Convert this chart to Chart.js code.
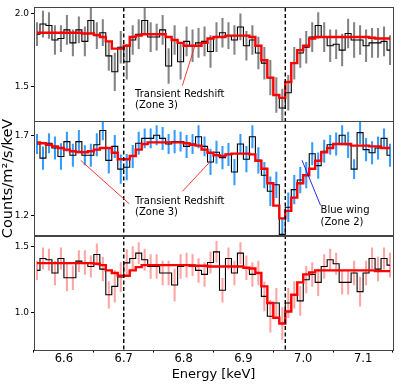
<!DOCTYPE html>
<html lang="en">
<head>
<meta charset="UTF-8" />
<title>Fe K spectrum panels</title>
<style>
  html, body { margin: 0; padding: 0; background: #fff; }
  #wrap { width: 399px; height: 384px; }
</style>
</head>
<body>
<div id="wrap"><canvas id="spec" width="399" height="384"></canvas></div>
<script src="https://cdn.jsdelivr.net/npm/chart.js"></script>
<script>
// bin centres [keV]
const energy = [
  6.555, 6.565, 6.575, 6.585, 6.595, 6.605, 6.615, 6.625, 6.635, 6.645,
  6.655, 6.665, 6.675, 6.685, 6.695, 6.705, 6.715, 6.725, 6.735, 6.745,
  6.755, 6.765, 6.775, 6.785, 6.795, 6.805, 6.815, 6.825, 6.835, 6.845,
  6.855, 6.865, 6.875, 6.885, 6.895, 6.905, 6.915, 6.925, 6.935, 6.945,
  6.955, 6.965, 6.975, 6.985, 6.995, 7.005, 7.015, 7.025, 7.035, 7.045,
  7.055, 7.065, 7.075, 7.085, 7.095, 7.105, 7.115, 7.125, 7.135, 7.145
];

// top panel (grey errors)
const data1 = [
  1.86, 1.93, 1.92, 1.82, 1.83, 1.89, 1.80, 1.89, 1.81, 1.955,
  1.85, 1.87, 1.71, 1.60, 1.77, 1.67, 1.82, 1.86, 1.955, 1.84,
  1.84, 1.89, 1.64, 1.82, 1.67, 1.81, 1.78, 1.80, 1.81, 1.74,
  1.84, 1.87, 1.85, 1.82, 1.91, 1.78, 1.82, 1.73, 1.66, 1.56,
  1.44, 1.35, 1.455, 1.66, 1.73, 1.77, 1.84, 1.92, 1.84, 1.78,
  1.79, 1.75, 1.865, 1.82, 1.82, 1.78, 1.80, 1.80, 1.81, 1.75
];
const err1 = [
  0.08, 0.09, 0.09, 0.10, 0.09, 0.10, 0.09, 0.09, 0.10, 0.09,
  0.09, 0.09, 0.10, 0.13, 0.11, 0.12, 0.10, 0.10, 0.09, 0.10,
  0.09, 0.10, 0.12, 0.10, 0.12, 0.10, 0.11, 0.10, 0.10, 0.11,
  0.10, 0.10, 0.09, 0.10, 0.09, 0.10, 0.10, 0.11, 0.11, 0.12,
  0.12, 0.13, 0.12, 0.11, 0.10, 0.11, 0.10, 0.09, 0.10, 0.11,
  0.10, 0.11, 0.10, 0.12, 0.10, 0.11, 0.10, 0.10, 0.10, 0.10
];
const model1 = [
  1.87, 1.87, 1.87, 1.87, 1.87, 1.87, 1.87, 1.87, 1.865, 1.865,
  1.855, 1.84, 1.81, 1.76, 1.76, 1.78, 1.84, 1.85, 1.86, 1.86,
  1.86, 1.86, 1.84, 1.82, 1.80, 1.78, 1.78, 1.78, 1.80, 1.83,
  1.84, 1.84, 1.85, 1.85, 1.85, 1.85, 1.84, 1.78, 1.68, 1.56,
  1.44, 1.42, 1.53, 1.66, 1.75, 1.78, 1.83, 1.84, 1.84, 1.84,
  1.84, 1.84, 1.84, 1.84, 1.84, 1.84, 1.835, 1.83, 1.83, 1.83
];

// middle panel (blue errors)
const data2 = [
  1.645, 1.557, 1.65, 1.62, 1.567, 1.66, 1.575, 1.66, 1.575, 1.575,
  1.64, 1.73, 1.543, 1.63, 1.488, 1.50, 1.567, 1.65, 1.68, 1.68,
  1.70, 1.68, 1.645, 1.66, 1.66, 1.63, 1.645, 1.69, 1.63, 1.533,
  1.594, 1.56, 1.58, 1.47, 1.645, 1.55, 1.69, 1.543, 1.45, 1.35,
  1.39, 1.08, 1.25, 1.36, 1.42, 1.45, 1.584, 1.51, 1.60, 1.64,
  1.645, 1.70, 1.64, 1.488, 1.716, 1.61, 1.59, 1.62, 1.68, 1.575
];
const err2 = [
  0.06, 0.07, 0.06, 0.07, 0.08, 0.06, 0.07, 0.07, 0.06, 0.07,
  0.07, 0.06, 0.08, 0.07, 0.09, 0.08, 0.07, 0.07, 0.06, 0.06,
  0.06, 0.07, 0.06, 0.07, 0.06, 0.07, 0.06, 0.07, 0.06, 0.08,
  0.07, 0.07, 0.07, 0.08, 0.06, 0.08, 0.07, 0.08, 0.08, 0.09,
  0.08, 0.10, 0.09, 0.09, 0.08, 0.08, 0.07, 0.08, 0.07, 0.06,
  0.07, 0.06, 0.08, 0.06, 0.07, 0.07, 0.07, 0.07, 0.06, 0.07
];
const model2 = [
  1.655, 1.65, 1.64, 1.63, 1.62, 1.61, 1.60, 1.595, 1.594, 1.60,
  1.61, 1.62, 1.62, 1.59, 1.55, 1.55, 1.57, 1.61, 1.645, 1.655,
  1.655, 1.655, 1.655, 1.655, 1.655, 1.65, 1.64, 1.635, 1.61, 1.59,
  1.575, 1.57, 1.58, 1.585, 1.585, 1.585, 1.58, 1.54, 1.49, 1.40,
  1.26, 1.18, 1.227, 1.31, 1.40, 1.45, 1.49, 1.54, 1.594, 1.62,
  1.645, 1.645, 1.645, 1.635, 1.635, 1.635, 1.63, 1.63, 1.62, 1.62
];

// bottom panel (light red errors)
const data3 = [
  1.32, 1.41, 1.40, 1.30, 1.41, 1.265, 1.265, 1.39, 1.38, 1.35,
  1.44, 1.33, 1.136, 1.20, 1.27, 1.377, 1.41, 1.45, 1.40, 1.35,
  1.35, 1.30, 1.30, 1.21, 1.35, 1.36, 1.36, 1.32, 1.29, 1.38,
  1.46, 1.17, 1.41, 1.30, 1.45, 1.34, 1.29, 1.30, 1.124, 0.975,
  1.074, 0.92, 1.074, 1.136, 1.09, 1.25, 1.29, 1.23, 1.35, 1.40,
  1.37, 1.23, 1.23, 1.30, 1.16, 1.30, 1.41, 1.33, 1.41, 1.36
];
const err3 = [
  0.07, 0.08, 0.08, 0.09, 0.08, 0.10, 0.09, 0.08, 0.09, 0.08,
  0.08, 0.09, 0.10, 0.12, 0.11, 0.10, 0.09, 0.08, 0.08, 0.09,
  0.09, 0.09, 0.09, 0.12, 0.09, 0.09, 0.08, 0.09, 0.09, 0.08,
  0.08, 0.09, 0.08, 0.09, 0.08, 0.09, 0.09, 0.09, 0.11, 0.12,
  0.11, 0.12, 0.11, 0.10, 0.11, 0.10, 0.09, 0.10, 0.09, 0.08,
  0.08, 0.09, 0.09, 0.09, 0.11, 0.09, 0.08, 0.09, 0.08, 0.09
];
const model3 = [
  1.375, 1.375, 1.375, 1.375, 1.375, 1.375, 1.375, 1.375, 1.375, 1.375,
  1.37, 1.36, 1.32, 1.30, 1.28, 1.28, 1.32, 1.345, 1.36, 1.36,
  1.36, 1.36, 1.36, 1.36, 1.36, 1.36, 1.355, 1.355, 1.355, 1.35,
  1.35, 1.35, 1.35, 1.35, 1.35, 1.34, 1.335, 1.30, 1.20, 1.074,
  0.963, 0.92, 1.01, 1.136, 1.23, 1.29, 1.305, 1.32, 1.32, 1.32,
  1.32, 1.32, 1.32, 1.32, 1.32, 1.32, 1.32, 1.315, 1.315, 1.315
];

const xTicks = [6.6, 6.7, 6.8, 6.9, 7.0, 7.1];
const yTicks1 = [1.5, 2.0];
const yTicks2 = [1.2, 1.7];
const yTicks3 = [1.0, 1.5];
const lineEnergies = [6.70, 6.97];

// text labels and pointer lines, in data coordinates of each panel
const notes = [
  { axis: 'yTop', x: 6.719, y: 1.446, text: 'Transient Redshift' },
  { axis: 'yTop', x: 6.719, y: 1.366, text: '(Zone 3)' },
  { axis: 'yMid', x: 6.719, y: 1.288, text: 'Transient Redshift' },
  { axis: 'yMid', x: 6.719, y: 1.220, text: '(Zone 3)' },
  { axis: 'yMid', x: 7.029, y: 1.227, text: 'Blue wing' },
  { axis: 'yMid', x: 7.029, y: 1.153, text: '(Zone 2)' }
];
const pointers = [
  { axis: 'yTop', from: [6.798, 1.505], to: [6.8185, 1.775], color: '#ff2020' },
  { axis: 'yMid', from: [6.628, 1.543], to: [6.709, 1.272], color: '#ff2020' },
  { axis: 'yMid', from: [6.798, 1.349], to: [6.845, 1.537], color: '#ff2020' },
  { axis: 'yMid', from: [6.998, 1.543], to: [7.029, 1.261], color: '#1010e0' }
];

const font = "'DejaVu Sans', sans-serif";

function panelSets(vals, model, errs, axis, errColor) {
  return [
    {
      type: 'line',
      data: energy.map((e, i) => ({ x: e, y: model[i] })),
      yAxisID: axis,
      borderColor: '#ff0000',
      borderWidth: 2.4,
      stepped: 'middle',
      pointRadius: 0,
      order: 0
    },
    {
      type: 'line',
      data: energy.map((e, i) => ({ x: e, y: vals[i] })),
      yAxisID: axis,
      borderColor: '#000000',
      borderWidth: 1.1,
      stepped: 'middle',
      pointRadius: 0,
      order: 1
    },
    {
      type: 'bar',
      data: energy.map((e, i) => ({ x: e, y: [vals[i] - errs[i], vals[i] + errs[i]] })),
      yAxisID: axis,
      backgroundColor: errColor,
      borderWidth: 0,
      barThickness: 1.4,
      grouped: false,
      order: 2
    }
  ];
}

function yAxis(min, max, ticks, weight, title) {
  return {
    type: 'linear',
    position: 'left',
    stack: 'panels',
    stackWeight: 1,
    weight: weight,
    min: min,
    max: max,
    offset: false,
    afterBuildTicks: s => { s.ticks = ticks.map(v => ({ value: v })); },
    afterFit: s => { s.width = 34; },
    ticks: {
      callback: v => v.toFixed(1),
      font: { family: font, size: 9 },
      color: '#000',
      padding: 2
    },
    grid: { drawOnChartArea: false, tickLength: 3, color: '#000' },
    border: { display: false },
    title: title ? {
      display: true,
      text: title,
      font: { family: font, size: 14.5 },
      color: '#000',
      padding: 0
    } : { display: false }
  };
}

const overlay = {
  id: 'overlay',
  afterDatasetsDraw(chart) {
    const { ctx } = chart;
    const x = chart.scales.x;
    const panels = [chart.scales.yTop, chart.scales.yMid, chart.scales.yBot];
    const top = Math.min(...panels.map(p => p.top));
    const bottom = Math.max(...panels.map(p => p.bottom));
    ctx.save();

    // dashed line markers
    ctx.strokeStyle = '#000';
    ctx.lineWidth = 1.4;
    ctx.setLineDash([4, 2.5]);
    lineEnergies.forEach(e => {
      const px = x.getPixelForValue(e);
      ctx.beginPath();
      ctx.moveTo(px, top);
      ctx.lineTo(px, bottom);
      ctx.stroke();
    });
    ctx.setLineDash([]);

    // panel frames
    ctx.strokeStyle = '#444';
    ctx.lineWidth = 1;
    panels.forEach(p => {
      ctx.strokeRect(Math.round(x.left) + 0.5, Math.round(p.top) + 0.5,
        Math.round(x.right - x.left), Math.round(p.bottom - p.top));
    });

    // pointer lines
    ctx.lineWidth = 0.9;
    pointers.forEach(a => {
      const ys = chart.scales[a.axis];
      ctx.strokeStyle = a.color;
      ctx.beginPath();
      ctx.moveTo(x.getPixelForValue(a.from[0]), ys.getPixelForValue(a.from[1]));
      ctx.lineTo(x.getPixelForValue(a.to[0]), ys.getPixelForValue(a.to[1]));
      ctx.stroke();
    });

    // notes
    ctx.fillStyle = '#000';
    ctx.font = '10px ' + font;
    ctx.textBaseline = 'middle';
    ctx.textAlign = 'left';
    notes.forEach(n => {
      const ys = chart.scales[n.axis];
      ctx.fillText(n.text, x.getPixelForValue(n.x), ys.getPixelForValue(n.y));
    });
    ctx.restore();
  }
};

const chart = new Chart(document.getElementById('spec'), {
  type: 'line',
  data: {
    datasets: [
      ...panelSets(data1, model1, err1, 'yTop', 'rgba(110,110,110,0.85)'),
      ...panelSets(data2, model2, err2, 'yMid', 'rgba(30,145,255,0.9)'),
      ...panelSets(data3, model3, err3, 'yBot', 'rgba(255,90,90,0.55)')
    ]
  },
  options: {
    responsive: false,
    animation: false,
    devicePixelRatio: 1,
    layout: { padding: { top: 3, right: 6, left: 0, bottom: 0 } },
    plugins: { legend: { display: false }, tooltip: { enabled: false } },
    scales: {
      yTop: yAxis(1.257, 2.045, yTicks1, 3, null),
      yMid: yAxis(1.073, 1.786, yTicks2, 2, 'Counts/m²/s/keV'),
      yBot: yAxis(0.723, 1.583, yTicks3, 1, null),
      x: {
        type: 'linear',
        min: 6.55,
        max: 7.15,
        offset: false,
        afterBuildTicks: s => { s.ticks = xTicks.map(v => ({ value: v })); },
        ticks: {
          callback: v => v.toFixed(1),
          font: { family: font, size: 11.5 },
          color: '#000',
          padding: 0,
          maxRotation: 0
        },
        grid: { drawOnChartArea: false, tickLength: 3, color: '#000' },
        border: { display: false },
        title: {
          display: true,
          text: 'Energy [keV]',
          font: { family: font, size: 13 },
          color: '#000',
          padding: { top: 0, bottom: 2 }
        }
      }
    }
  },
  plugins: [overlay]
});
</script>
</body>
</html>
